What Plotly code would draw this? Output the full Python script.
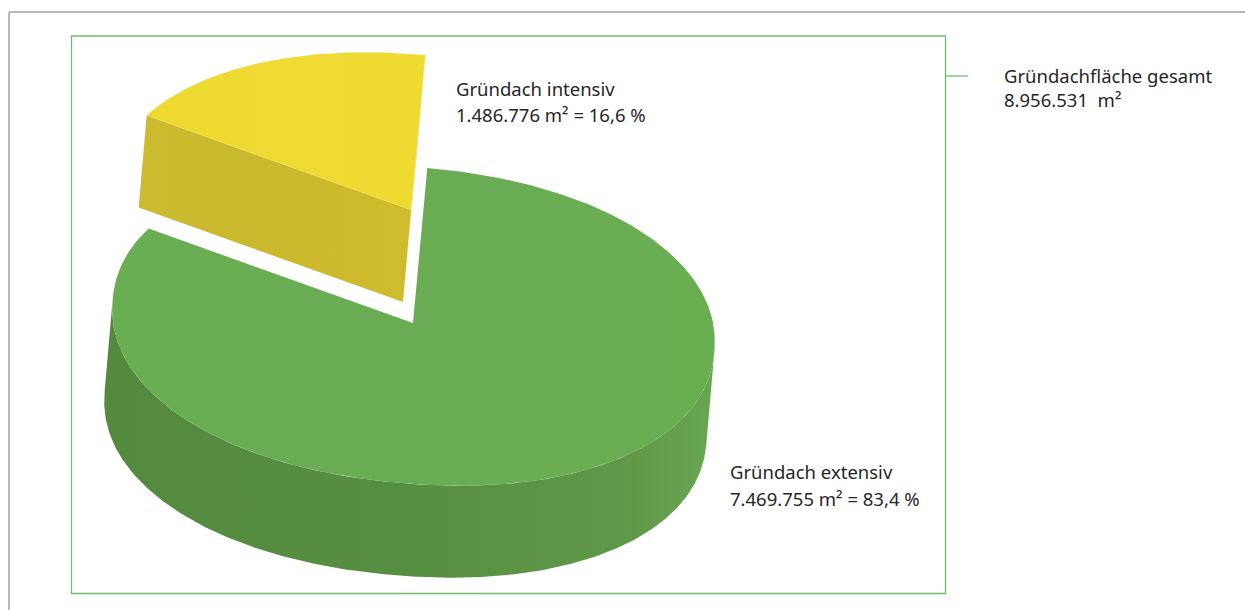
import numpy as np
import plotly.graph_objects as go

# ---- data ----
categories = ["Gründach intensiv", "Gründach extensiv"]
areas_m2 = [1486776, 7469755]
value_lines = ["1.486.776 m² = 16,6 %", "7.469.755 m² = 83,4 %"]
total_lines = ["Gründachfläche gesamt", "8.956.531  m²"]

# ---- projection of the tilted 3D pie ----
CX, CY, A, B = 413.5, 325.5, 302.0, 158.0
APEX = (413.0, 323.0)
TILT = np.radians(5.0)
SQUARE = 2.12           # >2 gives the slightly fuller outline of the perspective view
DEPTH = (-8.0, 92.0)
EXPLODE = (-2.0, -113.0)
START_DEG = 90.0
PERSPECTIVE = 1.065     # the view stretches the far-left sweep
FONT = "Noto Sans"
TXT = "#262626"
FS = 18.5

total = sum(areas_m2)
span = 360.0 * areas_m2[0] / total * PERSPECTIVE


def rim(t_deg, off=(0.0, 0.0)):
    t = np.radians(np.asarray(t_deg, dtype=float))
    c, s = np.cos(t), np.sin(t)
    ex = A * np.sign(c) * np.abs(c) ** (2 / SQUARE)
    ey = -B * np.sign(s) * np.abs(s) ** (2 / SQUARE)
    x = CX + ex * np.cos(TILT) - ey * np.sin(TILT) + off[0]
    y = CY + ex * np.sin(TILT) + ey * np.cos(TILT) + off[1]
    return x, y


def poly(x, y, color=None, gradient=None):
    kw = dict(fillgradient=gradient) if gradient else dict(fillcolor=color)
    return go.Scatter(x=list(x), y=list(y), mode="lines", fill="toself",
                      line=dict(width=0), hoverinfo="skip", showlegend=False, **kw)


def hgrad(stops):
    return dict(type="horizontal", colorscale=stops)


# tangent points of the rim in the extrusion direction bound the visible wall
grid = np.linspace(START_DEG + span, START_DEG + 360, 3000)
gx, gy = rim(grid)
cross = np.gradient(gx) * DEPTH[1] - np.gradient(gy) * DEPTH[0]
flips = np.where(np.sign(cross[2:-3]) != np.sign(cross[3:-2]))[0] + 2
t_left, t_right = grid[flips[0]], grid[flips[-1]]

fig = go.Figure()

# green slice
ts_side = np.linspace(t_left, t_right, 300)
sx, sy = rim(ts_side)
bx, by = rim(ts_side, DEPTH)
fig.add_trace(poly(np.r_[sx, bx[::-1]], np.r_[sy, by[::-1]],
                   gradient=hgrad([[0, "#538a3e"], [0.5, "#578f42"], [0.85, "#5f9848"], [1, "#68a650"]])))
ts_top = np.linspace(START_DEG + span, START_DEG + 360, 360)
tx, ty = rim(ts_top)
fig.add_trace(poly(np.r_[APEX[0], tx, APEX[0]], np.r_[APEX[1], ty, APEX[1]],
                   gradient=hgrad([[0, "#69ae53"], [0.5, "#6aac54"], [1, "#6aae52"]])))

# yellow slice (exploded)
ts_y = np.linspace(START_DEG, START_DEG + span, 90)
yx, yy = rim(ts_y, EXPLODE)
ax0, ay0 = APEX[0] + EXPLODE[0], APEX[1] + EXPLODE[1]
# right cut face
fig.add_trace(poly([yx[0], ax0, ax0 + DEPTH[0], yx[0] + DEPTH[0]],
                   [yy[0], ay0, ay0 + DEPTH[1], yy[0] + DEPTH[1]], color="#a99a22"))
# left cut face
fig.add_trace(poly([yx[-1], ax0, ax0 + DEPTH[0], yx[-1] + DEPTH[0]],
                   [yy[-1], ay0, ay0 + DEPTH[1], yy[-1] + DEPTH[1]],
                   gradient=hgrad([[0, "#cdbb2f"], [0.5, "#cbb92d"], [1, "#cfbc2c"]])))
# top
fig.add_trace(poly(np.r_[ax0, yx, ax0], np.r_[ay0, yy, ay0],
                   gradient=hgrad([[0, "#eed92e"], [0.5, "#efdb34"], [1, "#efda30"]])))

# text
labels = [
    (454, 88, categories[0]), (454, 114, value_lines[0]),
    (728, 471, categories[1]), (728, 498, value_lines[1]),
    (1002, 75, total_lines[0]), (1002, 99, total_lines[1]),
]
for x, y, s in labels:
    fig.add_annotation(x=x, y=y, text=s, showarrow=False, xanchor="left", yanchor="middle",
                       xref="x", yref="y", font=dict(family=FONT, size=FS, color=TXT))

# frames
GREEN = "#6cbf6c"
shapes = [
    dict(type="line", x0=9, x1=1245, y0=12, y1=12, line=dict(color="#a3a3a3", width=1.5)),
    dict(type="line", x0=9, x1=9, y0=12, y1=610, line=dict(color="#a3a3a3", width=1.5)),
    dict(type="rect", x0=71.5, x1=945.5, y0=36, y1=593.5, line=dict(color=GREEN, width=1.3)),
    dict(type="line", x0=945.5, x1=968, y0=76, y1=76, line=dict(color=GREEN, width=1.3)),
]
fig.update_layout(
    width=1245, height=610, margin=dict(l=0, r=0, t=0, b=0),
    paper_bgcolor="white", plot_bgcolor="white", shapes=shapes, showlegend=False,
    xaxis=dict(range=[0, 1245], visible=False, fixedrange=True),
    yaxis=dict(range=[610, 0], visible=False, fixedrange=True),
)
fig.write_html("out.html", config=dict(displayModeBar=False),
               post_script="document.body.style.margin='0';")
